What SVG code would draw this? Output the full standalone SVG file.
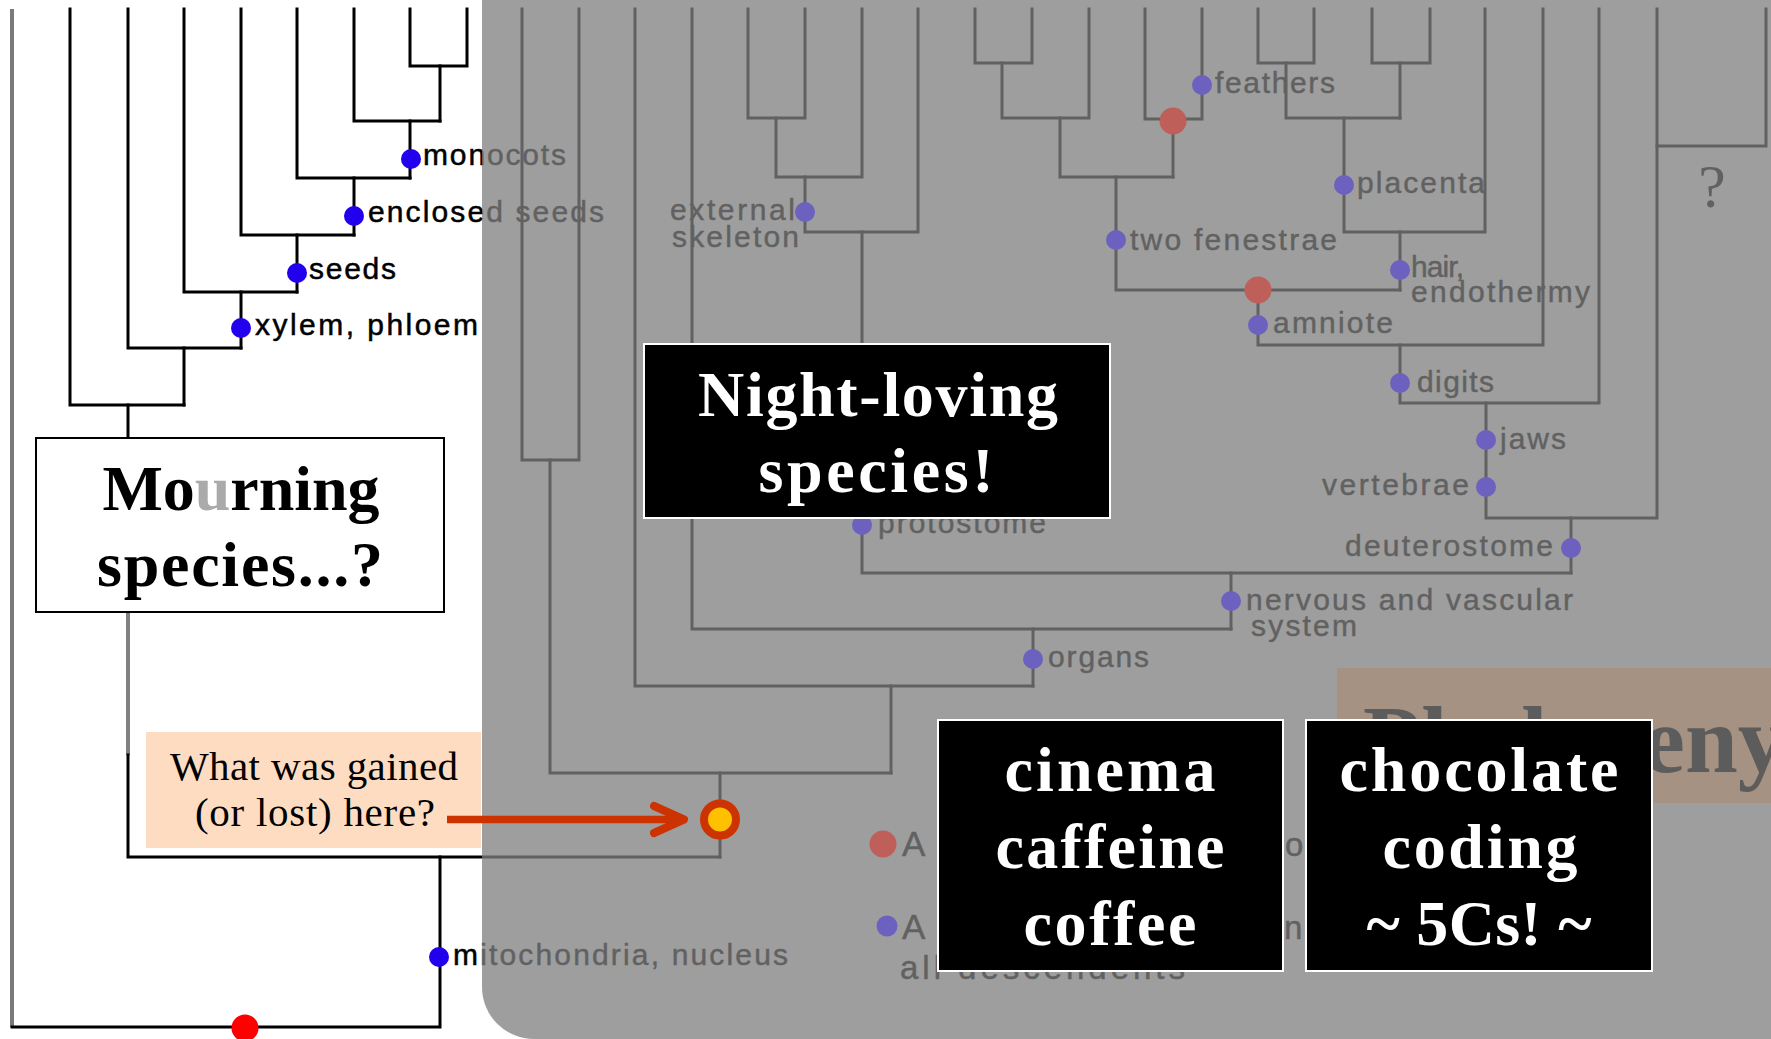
<svg xmlns="http://www.w3.org/2000/svg" width="1771" height="1039" viewBox="0 0 1771 1039">
<style>
.ln{fill:none;stroke:#000;stroke-width:3;stroke-linejoin:miter;stroke-linecap:square}
.lb{font-family:"Liberation Sans",Arial,sans-serif;font-size:30px;fill:#000;stroke:#000;stroke-width:0.5}
.bt{font-family:"Liberation Serif","Times New Roman",serif;font-weight:bold;font-size:64px;fill:#fff;text-anchor:middle}
.bx{fill:#000;stroke:#fff;stroke-width:2}
.pd{fill:#6d61bf}
.rd{fill:#bf5f5a}
.bd{fill:#2200ee}
</style>
<rect x="0" y="0" width="1771" height="1039" fill="#fff"/>

<g id="connectors">
  <path d="M12,9 V1027" fill="none" stroke="#7a7a7a" stroke-width="4"/>
  <path class="ln" d="M70,9 V405 H184"/>
  <path class="ln" d="M128,9 V348 H241"/>
  <path class="ln" d="M184,9 V292 H297"/>
  <path class="ln" d="M241,9 V235 H354"/>
  <path class="ln" d="M297,9 V178 H410"/>
  <path class="ln" d="M354,9 V121 H440"/>
  <path class="ln" d="M410,9 V66 H467 V9"/>
  <path class="ln" d="M440,66 V121"/>
  <path class="ln" d="M410,121 V178"/>
  <path class="ln" d="M354,178 V235"/>
  <path class="ln" d="M297,235 V292"/>
  <path class="ln" d="M241,292 V348"/>
  <path class="ln" d="M184,348 V405"/>
  <path class="ln" d="M128,405 V438"/>
  <path d="M128,612 V755" fill="none" stroke="#808080" stroke-width="4"/>
  <path class="ln" d="M128,755 V857 H720"/>
  <path class="ln" d="M440,857 V1027 H12"/>
  <path class="ln" d="M522,9 V460 H579 V9"/>
  <path class="ln" d="M550,460 V773 H891"/>
  <path class="ln" d="M635,9 V686 H1033"/>
  <path class="ln" d="M891,686 V773"/>
  <path class="ln" d="M720,773 V857"/>
  <path class="ln" d="M692,9 V629 H1231"/>
  <path class="ln" d="M1033,629 V686"/>
  <path class="ln" d="M748,9 V118 H805 V9"/>
  <path class="ln" d="M776,118 V177 H862 V9"/>
  <path class="ln" d="M805,177 V232 H918 V9"/>
  <path class="ln" d="M862,232 V573 H1571"/>
  <path class="ln" d="M1231,573 V629"/>
  <path class="ln" d="M975,9 V63 H1032 V9"/>
  <path class="ln" d="M1002,63 V118 H1089 V9"/>
  <path class="ln" d="M1060,118 V177 H1173"/>
  <path class="ln" d="M1145,9 V119 H1202 V9"/>
  <path class="ln" d="M1173,119 V177"/>
  <path class="ln" d="M1116,177 V290 H1400"/>
  <path class="ln" d="M1258,9 V63 H1314 V9"/>
  <path class="ln" d="M1286,63 V118 H1400"/>
  <path class="ln" d="M1372,9 V63 H1430 V9"/>
  <path class="ln" d="M1400,63 V118"/>
  <path class="ln" d="M1344,118 V232 H1485 V9"/>
  <path class="ln" d="M1400,232 V290"/>
  <path class="ln" d="M1258,290 V345 H1543 V9"/>
  <path class="ln" d="M1400,345 V403 H1599 V9"/>
  <path class="ln" d="M1486,403 V518 H1657 V9"/>
  <path class="ln" d="M1657,146 H1766 V9"/>
  <path class="ln" d="M1571,518 V573"/>
</g>

<g id="labels">
  <text class="lb" x="423" y="165" textLength="143" lengthAdjust="spacing">monocots</text>
  <text class="lb" x="368" y="222" textLength="236" lengthAdjust="spacing">enclosed seeds</text>
  <text class="lb" x="309" y="279" textLength="87" lengthAdjust="spacing">seeds</text>
  <text class="lb" x="255" y="335" textLength="223" lengthAdjust="spacing">xylem, phloem</text>
  <text class="lb" x="453" y="965" textLength="335" lengthAdjust="spacing">mitochondria, nucleus</text>
  <text class="lb" x="670" y="220" textLength="125" lengthAdjust="spacing">external</text>
  <text class="lb" x="672" y="247" textLength="127" lengthAdjust="spacing">skeleton</text>
  <text class="lb" x="1215" y="93" textLength="120" lengthAdjust="spacing">feathers</text>
  <text class="lb" x="1357" y="193" textLength="128" lengthAdjust="spacing">placenta</text>
  <text class="lb" x="1130" y="250" textLength="207" lengthAdjust="spacing">two fenestrae</text>
  <text class="lb" x="1411" y="277" textLength="53" lengthAdjust="spacing">hair,</text>
  <text class="lb" x="1411" y="302" textLength="179" lengthAdjust="spacing">endothermy</text>
  <text class="lb" x="1273" y="333" textLength="120" lengthAdjust="spacing">amniote</text>
  <text class="lb" x="1417" y="392" textLength="77" lengthAdjust="spacing">digits</text>
  <text class="lb" x="1500" y="449" textLength="66" lengthAdjust="spacing">jaws</text>
  <text class="lb" x="1322" y="495" textLength="147" lengthAdjust="spacing">vertebrae</text>
  <text class="lb" x="1345" y="556" textLength="208" lengthAdjust="spacing">deuterostome</text>
  <text class="lb" x="1246" y="610" textLength="327" lengthAdjust="spacing">nervous and vascular</text>
  <text class="lb" x="1251" y="636" textLength="106" lengthAdjust="spacing">system</text>
  <text class="lb" x="1048" y="667" textLength="101" lengthAdjust="spacing">organs</text>
  <text class="lb" x="878" y="533" textLength="168" lengthAdjust="spacing">protostome</text>
  <text x="1712" y="207" font-family="Liberation Serif,serif" font-size="62" text-anchor="middle" fill="#000">?</text>
  <text class="lb" x="902" y="856" style="font-size:35px">A</text>
  <text class="lb" x="1285" y="856" style="font-size:33px">o</text>
  <text class="lb" x="902" y="939" style="font-size:35px">A</text>
  <text class="lb" x="1284" y="939" style="font-size:33px">n</text>
  <text class="lb" x="900" y="979" style="font-size:33px" textLength="285" lengthAdjust="spacing">all descendents</text>
</g>

<g id="left-dots">
  <circle class="bd" cx="411" cy="159" r="10"/>
  <circle class="bd" cx="354" cy="216" r="10"/>
  <circle class="bd" cx="297" cy="273" r="10"/>
  <circle class="bd" cx="241" cy="328" r="10"/>
  <circle class="bd" cx="439" cy="957" r="10"/>
  <circle cx="245" cy="1028" r="13.5" fill="#f00"/>
</g>

<path id="dim-overlay" d="M482,0 H1771 V1039 H534 A52,52 0 0 1 482,987 Z" fill="#808080" fill-opacity="0.76"/>

<g id="phylogeny-title">
  <rect x="1337" y="668" width="434" height="135" fill="#a69282"/>
  <text x="1363" y="772" font-family="Liberation Serif,serif" font-weight="bold" font-size="95" fill="#5c5c5c">Phylogeny</text>
</g>

<g id="gray-dots">
  <circle class="pd" cx="805" cy="212" r="10"/>
  <circle class="pd" cx="1202" cy="85" r="10"/>
  <circle class="pd" cx="1116" cy="240" r="10"/>
  <circle class="pd" cx="1344" cy="185" r="10"/>
  <circle class="pd" cx="1400" cy="270" r="10"/>
  <circle class="pd" cx="1258" cy="325" r="10"/>
  <circle class="pd" cx="1400" cy="383" r="10"/>
  <circle class="pd" cx="1486" cy="440" r="10"/>
  <circle class="pd" cx="1486" cy="487" r="10"/>
  <circle class="pd" cx="1571" cy="548" r="10"/>
  <circle class="pd" cx="1231" cy="601" r="10"/>
  <circle class="pd" cx="1033" cy="659" r="10"/>
  <circle class="pd" cx="862" cy="525" r="10"/>
  <circle class="pd" cx="887" cy="926" r="10.5"/>
  <circle class="rd" cx="1173" cy="121" r="13.5"/>
  <circle class="rd" cx="1258" cy="290" r="13.5"/>
  <circle class="rd" cx="883" cy="844" r="13.5"/>
</g>

<g id="node-mourning">
  <rect x="36" y="438" width="408" height="174" fill="#fff" stroke="#000" stroke-width="2"/>
  <text x="241" y="510" font-family="Liberation Serif,serif" font-weight="bold" font-size="64" text-anchor="middle" fill="#000" textLength="277" lengthAdjust="spacing">Mo<tspan fill="#aaaaaa">u</tspan>rning</text>
  <text x="240" y="586" font-family="Liberation Serif,serif" font-weight="bold" font-size="64" text-anchor="middle" fill="#000" textLength="286" lengthAdjust="spacing">species...?</text>
</g>

<g id="node-question">
  <rect x="146" y="732" width="335" height="116" fill="#fddcc1"/>
  <text x="314" y="780" font-family="Liberation Serif,serif" font-size="41" text-anchor="middle" fill="#000" textLength="288" lengthAdjust="spacing">What was gained</text>
  <text x="315" y="826" font-family="Liberation Serif,serif" font-size="41" text-anchor="middle" fill="#000" textLength="240" lengthAdjust="spacing">(or lost) here?</text>
</g>

<g id="node-night">
  <rect class="bx" x="644" y="344" width="466" height="174"/>
  <text class="bt" x="878" y="416" textLength="360" lengthAdjust="spacing">Night-loving</text>
  <text class="bt" x="876" y="492" textLength="235" lengthAdjust="spacing">species!</text>
</g>

<g id="node-cinema">
  <rect class="bx" x="938" y="720" width="345" height="251"/>
  <text class="bt" x="1110" y="791" textLength="211" lengthAdjust="spacing">cinema</text>
  <text class="bt" x="1110" y="868" textLength="229" lengthAdjust="spacing">caffeine</text>
  <text class="bt" x="1110" y="945" textLength="173" lengthAdjust="spacing">coffee</text>
</g>

<g id="node-chocolate">
  <rect class="bx" x="1306" y="720" width="346" height="251"/>
  <text class="bt" x="1479" y="791" textLength="279" lengthAdjust="spacing">chocolate</text>
  <text class="bt" x="1480" y="868" textLength="195" lengthAdjust="spacing">coding</text>
  <text class="bt" x="1479" y="945" textLength="225" lengthAdjust="spacing">~ 5Cs! ~</text>
</g>

<g id="arrow">
  <path d="M447,819.5 H680" fill="none" stroke="#cc3300" stroke-width="7.5"/>
  <path d="M654,806 L684,819.5 L654,833" fill="none" stroke="#cc3300" stroke-width="8" stroke-linecap="round" stroke-linejoin="round"/>
</g>

<g id="node-target">
  <circle cx="720" cy="819.5" r="16" fill="#ffc000" stroke="#cc3300" stroke-width="8"/>
</g>
</svg>
